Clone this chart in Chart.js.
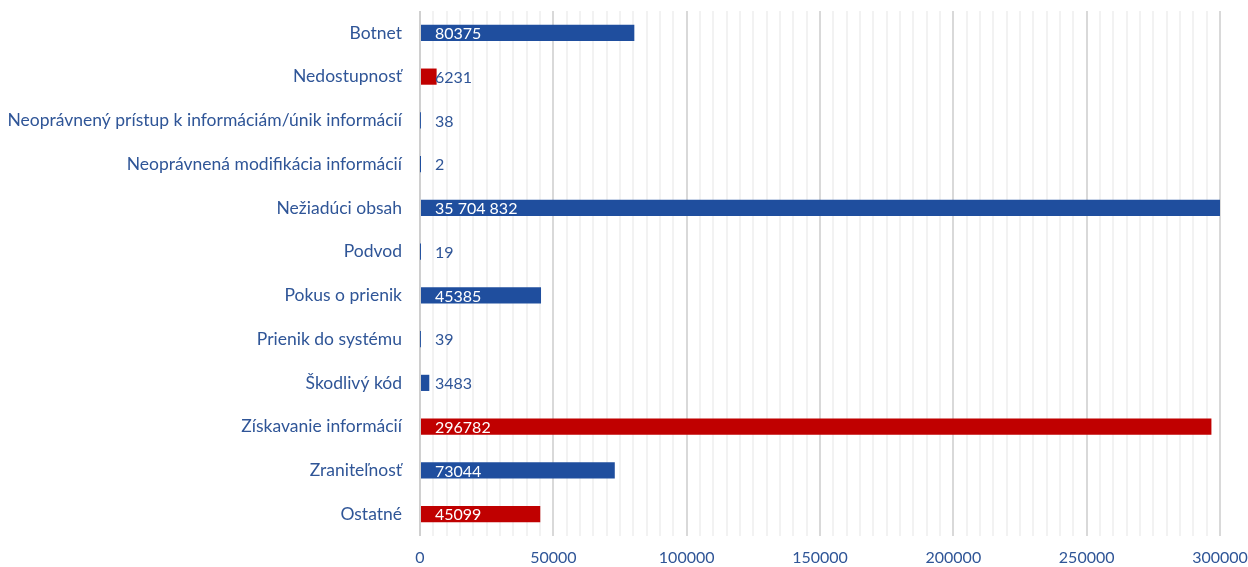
<!DOCTYPE html>
<html>
<head>
<meta charset="utf-8">
<script src="https://cdn.jsdelivr.net/npm/chart.js@4/dist/chart.umd.min.js"></script>
<style>
  html, body { margin: 0; padding: 0; background: #fff; }
  #wrap { width: 1248px; height: 567px; }
</style>
</head>
<body>
<div id="wrap"><canvas id="chart" width="1248" height="567"></canvas></div>
<script>
// Data
var categories = ['Botnet', 'Nedostupnosť', 'Neoprávnený prístup k informáciám/únik informácií', 'Neoprávnená modifikácia informácií', 'Nežiadúci obsah', 'Podvod', 'Pokus o prienik', 'Prienik do systému', 'Škodlivý kód', 'Získavanie informácií', 'Zraniteľnosť', 'Ostatné'];
var values = [80375, 6231, 38, 2, 35704832, 19, 45385, 39, 3483, 296782, 73044, 45099];
var valueLabels = ['80375', '6231', '38', '2', '35 704 832', '19', '45385', '39', '3483', '296782', '73044', '45099'];
var xMax = 300000;
var majorStep = 50000;
var minorStep = 5000;

// Styles
var BLUE = '#1F4E9E';
var RED = '#C00000';
var TEXT = '#2F5597';
var barColors = [BLUE, RED, BLUE, BLUE, BLUE, BLUE, BLUE, BLUE, BLUE, RED, BLUE, RED];
var FONT = 'Lato';

// Value labels drawn at the base of each bar
var valueLabelPlugin = {
  id: 'valueLabels',
  afterDatasetsDraw: function (chart) {
    var ctx = chart.ctx;
    var xScale = chart.scales.x;
    var area = chart.chartArea;
    var x0 = xScale.getPixelForValue(0);
    var bars = chart.getDatasetMeta(0).data;
    ctx.save();
    ctx.font = '16px ' + FONT;
    ctx.textBaseline = 'middle';
    ctx.textAlign = 'left';
    for (var i = 0; i < bars.length; i++) {
      var txt = valueLabels[i];
      var tx = x0 + 15;
      var end = Math.min(bars[i].x, area.right);
      var w = ctx.measureText(txt).width;
      ctx.fillStyle = (end > tx + w) ? '#FFFFFF' : TEXT;
      ctx.fillText(txt, tx, bars[i].y + 1);
    }
    ctx.restore();
  }
};

var ctx = document.getElementById('chart').getContext('2d');
var chart = new Chart(ctx, {
  type: 'bar',
  data: {
    labels: categories,
    datasets: [{
      data: values,
      backgroundColor: barColors,
      barPercentage: 0.37,
      categoryPercentage: 1
    }]
  },
  options: {
    indexAxis: 'y',
    responsive: false,
    animation: false,
    layout: { padding: { top: 11, right: 28, left: 0, bottom: 0 } },
    plugins: {
      legend: { display: false },
      tooltip: { enabled: false }
    },
    scales: {
      x: {
        min: 0,
        max: xMax,
        border: { display: false },
        grid: {
          drawTicks: false,
          lineWidth: 2,
          color: function (c) {
            if (!c.tick) return '#F2F2F2';
            if (c.tick.value === 0) return '#D0D0D0';
            return (c.tick.value % majorStep === 0) ? '#D9D9D9' : '#F2F2F2';
          }
        },
        ticks: {
          stepSize: minorStep,
          autoSkip: false,
          maxRotation: 0,
          padding: 12,
          color: TEXT,
          font: { family: FONT, size: 16 },
          callback: function (v) {
            return (v % majorStep === 0) ? String(v) : '';
          }
        },
        afterFit: function (scale) {
          scale.height = 31;
          scale.paddingLeft = 0;
          scale.paddingRight = 0;
        }
      },
      y: {
        border: { display: false },
        grid: { display: false, drawTicks: false },
        ticks: {
          padding: 18,
          color: TEXT,
          font: { family: FONT, size: 17.5 }
        },
        afterFit: function (scale) {
          scale.width = 420;
          scale.paddingTop = 0;
          scale.paddingBottom = 0;
        }
      }
    }
  },
  plugins: [valueLabelPlugin]
});
</script>
</body>
</html>
